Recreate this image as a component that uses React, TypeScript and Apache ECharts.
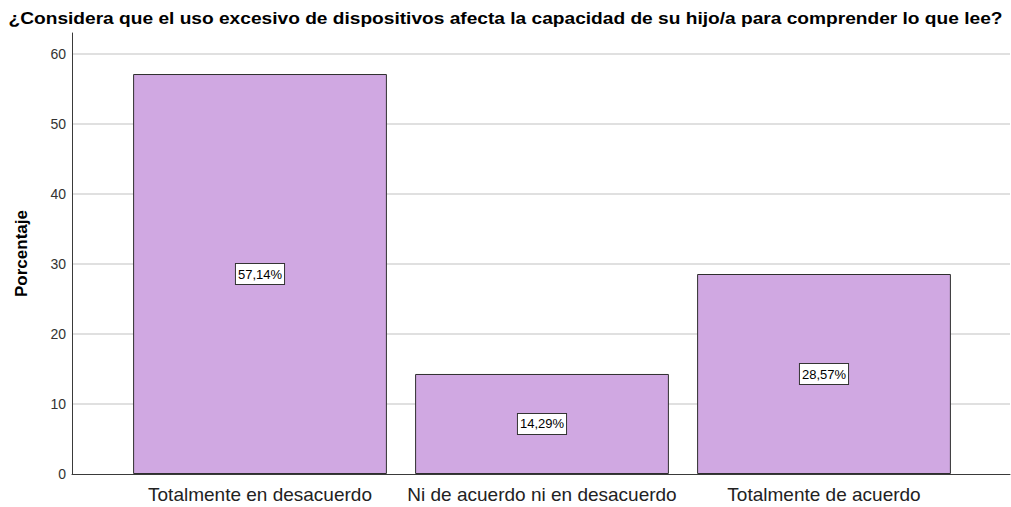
import React, { useEffect, useRef } from "react";
import * as echarts from "echarts";

const titleText =
  "¿Considera que el uso excesivo de dispositivos afecta la capacidad de su hijo/a para comprender lo que lee?";
const categories = [
  "Totalmente en desacuerdo",
  "Ni de acuerdo ni en desacuerdo",
  "Totalmente de acuerdo",
];
const percentages = [57.14, 14.29, 28.57];
const yTicks = [0, 10, 20, 30, 40, 50, 60];
const yMax = 63;

const FONT = "'Liberation Sans', Arial, sans-serif";

export default function App() {
  const ref = useRef<HTMLDivElement>(null);
  useEffect(() => {
    if (!ref.current) return;
    const chart = echarts.init(ref.current, null, { renderer: "svg" });
    chart.setOption({
      animation: false,
      backgroundColor: "#ffffff",
      graphic: [
        {
          type: "text",
          x: 505.5,
          y: 19,
          scaleX: 1.197,
          style: {
            text: titleText,
            font: "bold 16px 'Liberation Sans', Arial, sans-serif",
            fill: "#000",
            textAlign: "center",
            textVerticalAlign: "middle",
          },
        },
      ],
      grid: [
        { left: 72, right: 1, top: 33, bottom: 33 },
        { left: 119, right: 46, top: 33, bottom: 33 },
      ],
      xAxis: [
        {
          type: "category",
          gridIndex: 0,
          data: categories,
          axisLine: { show: true, lineStyle: { color: "#3a3a3a", width: 1 } },
          axisTick: { show: false },
          axisLabel: { show: false },
        },
        {
          type: "category",
          gridIndex: 1,
          data: categories,
          axisLine: { show: false },
          axisTick: { show: false },
          axisLabel: {
            interval: 0,
            hideOverlap: false,
            margin: 11,
            fontFamily: FONT,
            fontSize: 19,
            color: "#222",
          },
        },
      ],
      yAxis: [
        {
          type: "value",
          gridIndex: 0,
          min: yTicks[0],
          max: yMax,
          interval: 10,
          name: "Porcentaje",
          nameLocation: "middle",
          nameGap: 42,
          nameTextStyle: { fontFamily: FONT, fontSize: 17, fontWeight: "bold", color: "#000" },
          axisLine: { show: true, lineStyle: { color: "#3a3a3a", width: 1 } },
          axisTick: { show: false },
          axisLabel: {
            margin: 6,
            fontFamily: FONT,
            fontSize: 14,
            color: "#333",
            showMaxLabel: false,
            formatter: (v: number) => (yTicks.includes(v) ? String(v) : ""),
          },
          splitLine: {
            show: true,
            showMinLine: false,
            showMaxLine: false,
            lineStyle: { color: "#d6d6d6", width: 1.5 },
          },
        },
        {
          type: "value",
          gridIndex: 1,
          min: yTicks[0],
          max: yMax,
          interval: 10,
          show: false,
          splitLine: { show: false },
        },
      ],
      series: [
        {
          type: "bar",
          xAxisIndex: 1,
          yAxisIndex: 1,
          data: percentages,
          barCategoryGap: "10%",
          itemStyle: { color: "#d0a8e2", borderColor: "#2e2e2e", borderWidth: 1 },
          label: {
            show: true,
            position: "inside",
            formatter: (p: any) => p.value.toFixed(2).replace(".", ",") + "%",
            fontFamily: FONT,
            fontSize: 13,
            color: "#000",
            backgroundColor: "#fff",
            borderColor: "#333",
            borderWidth: 1,
            padding: [4, 2, 3, 2],
          },
        },
      ],
    });
    return () => chart.dispose();
  }, []);
  return <div ref={ref} style={{ width: 1011, height: 507, position: "absolute", left: 0, top: 0 }} />;
}
